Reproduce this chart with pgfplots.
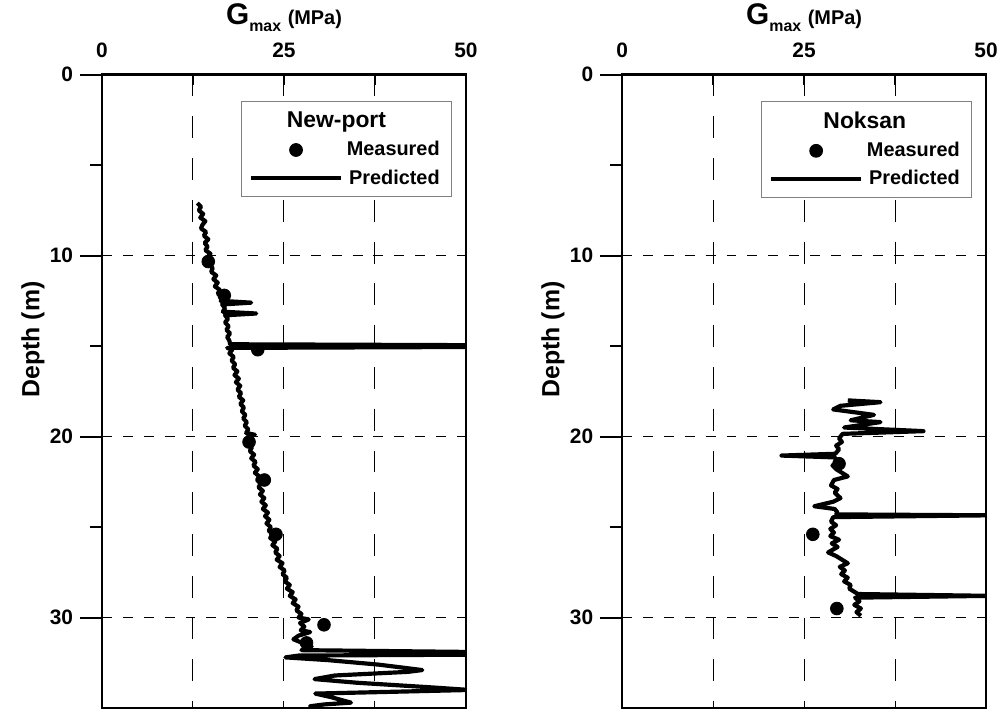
\documentclass[border=0pt]{standalone}
\usepackage{pgfplots}
\pgfplotsset{compat=1.18}
\usepackage{fontspec}
\setmainfont{Liberation Sans}
\begin{document}
\pgfplotsset{
  gplot/.style={
    scale only axis, width=183pt, height=318.5pt,
    xmin=0, xmax=50, ymin=0, ymax=35, y dir=reverse,
    axis line style={line width=1.1pt},
    every tick/.style={black, line width=1pt},
    xtick={0,12.5,25,37.5,50}, xticklabels={0,,25,,50},
    xtick pos=right, xticklabel pos=right,
    ytick={0,10,20,30}, minor ytick={5,15,25},
    ytick pos=left,
    xtick align=inside, ytick align=outside,
    major tick length=11pt, minor tick length=6pt,
    major x tick style={/pgfplots/major tick length=5pt},
    grid=major,
    major x grid style={black, line width=0.5pt, dash pattern=on 11pt off 10pt},
    major y grid style={black, line width=0.5pt, dash pattern=on 5pt off 5.5pt},
    minor grid style={draw=none},
    tick label style={font=\bfseries\fontsize{10.5}{12}\selectfont},
    /pgf/number format/assume math mode=true,
    x tick label style={yshift=5pt},
    xlabel={\bfseries{\fontsize{15}{17}\selectfont G}\raisebox{-3.5pt}{\fontsize{8}{9}\selectfont max}\,\,{\fontsize{10}{12}\selectfont (MPa)}},
    xlabel style={at={(axis description cs:0.5,1.0895)}, anchor=center},
    ylabel={\bfseries\fontsize{12.5}{14}\selectfont Depth (m)},
    ylabel style={at={(axis description cs:-0.19,0.582)}, anchor=center},
    legend style={at={(axis description cs:0.962,0.958)}, anchor=north east, draw=gray, line width=0.5pt, fill=white, font=\bfseries\fontsize{10}{12}\selectfont, row sep=1.5pt, inner xsep=4pt, inner ysep=3pt},
    legend cell align=right,
  },
  meas/.style={only marks, mark=*, mark size=3.2pt, black,
    legend image code/.code={\draw[##1] plot coordinates {(22.5pt,0pt)};}},
  pred/.style={black, line width=2.1pt, line join=round, no marks,
    legend image code/.code={\draw[##1] (0pt,0pt) -- (45pt,0pt);}},
}
\begin{tikzpicture}
\begin{axis}[gplot, at={(48.5pt,-37.5pt)}, anchor=north west]
\addlegendimage{empty legend}
\addlegendentry{\makebox[0pt][r]{\fontsize{11.5}{13}\selectfont New-port\hspace{27pt}}}
\addplot[meas] coordinates {
(14.6,10.33) (16.8,12.2) (21.4,15.2) (20.2,20.3) (22.3,22.4) (23.9,25.4) (30.5,30.4) (28.1,31.4)
};
\addlegendentry{Measured}
\addplot[pred] coordinates {
(13.1,7.1) (13.6,7.3) (13.3,7.5) (13.9,7.7) (13.5,7.9) (14.2,8.1) (13.8,8.3) (13.6,8.5) (14.3,8.7) (14.0,8.9)
(14.6,9.1) (14.1,9.3) (14.5,9.5) (14.2,9.7) (14.9,9.9) (14.5,10.1) (15.1,10.3) (14.8,10.5) (15.2,10.7) (15.0,10.9)
(15.7,11.1) (15.3,11.3) (15.9,11.5) (15.5,11.7) (16.2,11.9) (15.9,12.1) (16.6,12.3) (16.3,12.5) (20.5,12.6) (16.5,12.7)
(16.9,12.9) (16.6,13.1) (21.2,13.2) (16.9,13.3) (17.3,13.5) (16.9,13.7) (17.4,13.9) (17.1,14.1) (17.6,14.3) (17.2,14.5)
(17.5,14.7) (17.6,14.9) (50.5,14.95) (50.5,15.05) (17.2,15.1) (17.9,15.2) (17.5,15.4) (18.1,15.6) (17.8,15.8) (18.3,16.0)
(18.0,16.2) (18.6,16.4) (18.2,16.6) (18.8,16.8) (18.4,17.0) (19.0,17.2) (18.6,17.4) (19.1,17.6) (18.8,17.8) (19.4,18.0)
(19.0,18.2) (19.5,18.4) (19.2,18.6) (19.7,18.8) (19.4,19.0) (19.9,19.2) (19.6,19.4) (20.1,19.6) (19.8,19.8) (21.0,19.9)
(20.1,20.0) (20.4,20.2) (20.0,20.4) (20.6,20.6) (20.3,20.8) (20.9,21.0) (20.5,21.2) (21.1,21.4) (20.8,21.6) (21.4,21.8)
(21.0,22.0) (21.6,22.2) (21.3,22.4) (21.8,22.6) (21.5,22.8) (22.1,23.0) (21.7,23.2) (22.3,23.4) (21.9,23.6) (22.5,23.8)
(22.1,24.0) (22.8,24.2) (22.4,24.4) (23.0,24.6) (22.6,24.8) (23.2,25.0) (22.9,25.2) (23.5,25.4) (23.1,25.6) (23.8,25.8)
(23.4,26.0) (24.1,26.2) (23.8,26.4) (24.4,26.6) (24.0,26.8) (24.8,27.0) (24.4,27.2) (25.1,27.4) (24.8,27.6) (25.4,27.8)
(25.1,28.0) (25.8,28.2) (25.4,28.4) (26.2,28.6) (25.8,28.8) (26.6,29.0) (26.2,29.2) (27.0,29.4) (26.7,29.6) (27.4,29.8)
(27.0,30.0) (28.4,30.1) (27.2,30.3) (27.8,30.5) (27.3,30.7) (28.6,30.8) (27.0,31.0) (26.3,31.2) (27.5,31.4) (28.8,31.6)
(27.4,31.8) (50.5,31.9) (50.5,32.05) (27.0,32.1) (25.2,32.2) (31.0,32.35) (38.0,32.6) (44.0,32.9) (42.0,33.0) (32.0,33.2)
(29.2,33.4) (35.0,33.6) (45.0,33.85) (50.5,34.0) (40.0,34.1) (29.3,34.2) (31.5,34.4) (34.2,34.7) (30.5,34.8) (28.6,34.9) (29.0,35.2)
};
\addlegendentry{Predicted}
\end{axis}
\begin{axis}[gplot, at={(310pt,-37.5pt)}, anchor=north west]
\addlegendimage{empty legend}
\addlegendentry{\makebox[0pt][r]{\fontsize{11.5}{13}\selectfont Noksan\hspace{27pt}}}
\addplot[meas] coordinates {
(29.8,21.5) (26.2,25.4) (29.5,29.5)
};
\addlegendentry{Measured}
\addplot[pred] coordinates {
(31.0,18.0) (35.5,18.1) (30.0,18.3) (29.0,18.5) (34.6,18.8) (31.4,19.1) (35.5,19.2) (30.5,19.5) (41.4,19.7) (30.3,19.85)
(29.8,20.1) (30.2,20.3) (29.4,20.5) (29.8,20.7) (29.3,20.95) (21.9,21.05) (29.2,21.15) (29.6,21.4) (28.9,21.6) (29.4,21.8)
(31.0,22.2) (29.1,22.4) (28.7,22.7) (29.6,22.9) (29.2,23.1) (30.0,23.4) (29.0,23.6) (26.4,23.85) (29.2,24.0) (29.6,24.2)
(29.4,24.3) (50.5,24.35) (29.0,24.45) (28.7,24.7) (29.4,24.9) (28.6,25.1) (29.1,25.3) (28.6,25.5) (29.8,25.7) (28.8,25.9)
(29.6,26.1) (28.3,26.4) (29.4,26.6) (30.2,26.8) (31.0,27.0) (29.9,27.2) (30.6,27.4) (30.1,27.6) (31.0,27.8) (30.5,28.0)
(31.4,28.2) (31.2,28.4) (32.4,28.7) (50.5,28.8) (32.0,28.9) (32.6,29.1) (31.9,29.3) (32.8,29.5) (32.2,29.7) (32.8,29.9)
};
\addlegendentry{Predicted}
\end{axis}
\pgfresetboundingbox
\path[use as bounding box] (0pt,0pt) rectangle (500pt,-357.5pt);
\end{tikzpicture}
\end{document}
